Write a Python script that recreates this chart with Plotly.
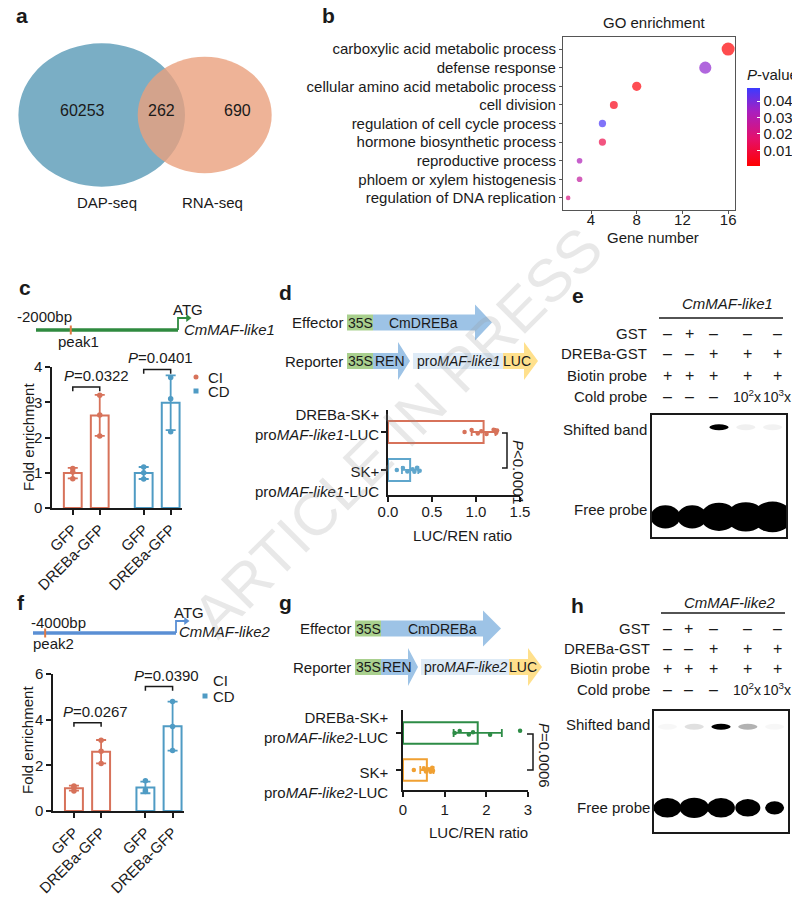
import numpy as np
import plotly.graph_objects as go

W, H = 800, 908
OFF = 8  # page body margin of the browser
FONT = "Liberation Sans, Arial, sans-serif"
INK = "#1a1a1a"
CI_COL, CD_COL = "#d7725a", "#4f9bc4"
GREEN, BLUE, LIGHT, YELLOW = "#a9d08e", "#9dc3e6", "#deebf7", "#ffe08c"


def fx(p):
    return (p - OFF) / W


def fy(p):
    return 1 - (p - OFF) / H


# ---------------- data ----------------
venn_names = ["DAP-seq", "RNA-seq"]
venn_counts = [60253, 262, 690]  # DAP only, shared, RNA only

go_terms = ["carboxylic acid metabolic process", "defense response",
            "cellular amino acid metabolic process", "cell division",
            "regulation of cell cycle process", "hormone biosynthetic process",
            "reproductive process", "phloem or xylem histogenesis",
            "regulation of DNA replication"]
go_genes = [16, 14, 8, 6, 5, 5, 3, 3, 2]
go_pvals = [0.001, 0.037, 0.002, 0.004, 0.046, 0.012, 0.032, 0.027, 0.021]

chip_labels = ["GFP", "DREBa-GFP"]
c_ci = [[1.12, 1.02, 0.83], [3.20, 2.64, 2.04]]
c_cd = [[1.16, 1.00, 0.82], [3.70, 3.10, 2.16]]
c_p = ["0.0322", "0.0401"]
f_ci = [[1.10, 1.02, 0.88], [3.10, 2.62, 2.08]]
f_cd = [[1.32, 0.92, 0.85], [4.80, 3.70, 2.65]]
f_p = ["0.0267", "0.0390"]

promoter_len = [2000, 4000]
peak_pos = [-1510, -3660]

d_dreb = [0.87, 0.95, 1.02, 1.06, 1.12, 1.20, 1.23, 1.24]
d_sk = [0.10, 0.17, 0.22, 0.28, 0.30, 0.33, 0.36]
g_dreb = [1.24, 1.36, 1.58, 1.68, 2.09, 2.81]
g_sk = [0.26, 0.50, 0.55, 0.62, 0.66, 0.70, 0.72]

gel_rows = ["GST", "DREBa-GST", "Biotin probe", "Cold probe"]
lane_gst = ["–", "+", "–", "–", "–"]
lane_dreb = ["–", "–", "+", "+", "+"]
lane_biotin = ["+", "+", "+", "+", "+"]
lane_cold = ["–", "–", "–", "10<sup>2</sup>x", "10<sup>3</sup>x"]
e_shift = [0.0, 0.0, 1.0, 0.06, 0.05]
e_free = [0.9, 0.9, 1.1, 1.15, 1.2]
h_shift = [0.03, 0.12, 1.0, 0.3, 0.03]
h_free = [1.0, 1.05, 1.0, 0.9, 0.68]

fig = go.Figure()
shapes, notes = [], []
lay = dict(width=W, height=H, margin=dict(l=0, r=0, t=0, b=0, autoexpand=False),
           paper_bgcolor="white", plot_bgcolor="white", showlegend=False,
           barmode="overlay", font=dict(family=FONT, size=15, color=INK))


def note(text, x, y, size=15, **kw):
    d = dict(text=text, x=fx(x), y=fy(y), xref="paper", yref="paper",
             xanchor="center", yanchor="middle", showarrow=False,
             font=dict(size=size, color=INK, family=FONT))
    d.update(kw)
    notes.append(d)


def axis(dom, rng, anchor, **kw):
    d = dict(domain=dom, range=rng, anchor=anchor, showline=True, linecolor=INK,
             linewidth=1.5, ticks="outside", ticklen=5, tickwidth=1.5, tickcolor=INK,
             showgrid=False, zeroline=False, tickfont=dict(size=15, color=INK))
    d.update(kw)
    return d


# ---------------- a: Venn ----------------
lay["xaxis"] = dict(domain=[fx(8), fx(290)], range=[8, 290], anchor="y", visible=False)
lay["yaxis"] = dict(domain=[fy(260), fy(8)], range=[260, 8], anchor="x", visible=False)
venn_geom = [(101.7, 115, 83.3, 71.7, "rgb(122,174,197)"),
             (204.7, 115, 67, 58.3, "rgba(234,160,125,0.8)")]
for cx, cy, rx, ry, col in venn_geom:
    shapes.append(dict(type="circle", xref="x", yref="y", x0=cx - rx, x1=cx + rx,
                       y0=cy - ry, y1=cy + ry, fillcolor=col, line_width=0))
for cnt, xc in zip(venn_counts, [82, 161, 237]):
    notes.append(dict(text=str(cnt), x=xc, y=110, xref="x", yref="y", showarrow=False,
                      font=dict(size=16)))
for name, xc in zip(venn_names, [107, 212]):
    notes.append(dict(text=name, x=xc, y=202, xref="x", yref="y", showarrow=False,
                      font=dict(size=15)))

# ---------------- b: GO bubble ----------------
pcolors = [[0, "#ff0000"], [0.35, "#e5106b"], [0.7, "#a81fc0"], [1, "#3b3bff"]]
fig.add_trace(go.Scatter(
    x=go_genes, y=go_terms, mode="markers", xaxis="x2", yaxis="y2", cliponaxis=False,
    marker=dict(size=go_genes, sizemode="area", sizeref=2 * max(go_genes) / 13 ** 2,
                color=go_pvals, cmin=0.0005, cmax=0.048, colorscale=pcolors,
                line=dict(width=0),
                colorbar=dict(x=fx(747), xanchor="left", y=fy(116), yanchor="middle",
                              len=100, lenmode="pixels", thickness=13, outlinewidth=0,
                              xpad=0, ypad=0, ticks="inside", tickcolor="white",
                              ticklen=3, tickvals=[0.01, 0.02, 0.03, 0.04],
                              tickformat=".2f", tickfont=dict(size=15, color=INK),
                              title=dict(text="<i>P</i>-value", side="top",
                                         font=dict(size=15, color=INK)))),
))
lay["xaxis2"] = axis([fx(563), fx(735)], [1.55, 16.6], "y2", tickvals=[4, 8, 12, 16],
                     mirror=True, linecolor="#555", linewidth=1.2, ticklen=3,
                     tickcolor="#555", tickwidth=1, ticklabelstandoff=-7)
lay["yaxis2"] = axis([fy(210), fy(37)], [-0.65, len(go_terms) - 0.35], "x2",
                     type="category", categoryorder="array",
                     categoryarray=go_terms[::-1], mirror=True, linecolor="#555",
                     linewidth=1.2, ticklen=3, tickcolor="#555", tickwidth=1)
note("GO enrichment", 654, 23)
note("Gene number", 653, 237)

# ---------------- c / f: ChIP bars ----------------
CHIP_X = [[0, 1], [2.63, 3.63]]


def chip_panel(n, xl, xr, ytop, ybot, ymax, dtick, ci, cd, pvals, brk_y, shifts):
    xa, ya = f"x{n}", f"y{n}"
    lay[f"xaxis{n}"] = axis([fx(xl), fx(xr)], [-0.77, 4.05], ya,
                            tickvals=CHIP_X[0] + CHIP_X[1], ticktext=chip_labels * 2,
                            tickangle=-45)
    lay[f"yaxis{n}"] = axis([fy(ybot), fy(ytop)], [0, ymax], xa, dtick=dtick)
    for grp, pos, col in zip((ci, cd), CHIP_X, (CI_COL, CD_COL)):
        means = [np.mean(v) for v in grp]
        sds = [np.std(v, ddof=1) for v in grp]
        fig.add_trace(go.Bar(x=pos, y=means, width=0.66, xaxis=xa, yaxis=ya,
                             marker=dict(color="rgba(0,0,0,0)", line=dict(color=col, width=2)),
                             error_y=dict(type="data", array=sds, color=col,
                                          thickness=1.8, width=5)))
        xs = [p for p, v in zip(pos, grp) for _ in v]
        ys = [y for v in grp for y in v]
        fig.add_trace(go.Scatter(x=xs, y=ys, mode="markers", xaxis=xa, yaxis=ya,
                                 cliponaxis=False, marker=dict(size=5.5, color=col)))
    drop = 0.03 * ymax
    for (a, b), p, yb, sh in zip(CHIP_X, pvals, brk_y, shifts):
        shapes.append(dict(type="path", xref=xa, yref=ya,
                           path=f"M {a},{yb - drop} L {a},{yb} L {b},{yb} L {b},{yb - drop}",
                           line=dict(color=INK, width=1.5)))
        notes.append(dict(text=f"<i>P</i>={p}", x=(a + b) / 2, y=yb, xref=xa, yref=ya,
                          xanchor="center", yanchor="bottom", yshift=1, xshift=sh,
                          showarrow=False, font=dict(size=15)))


chip_panel(3, 52, 182, 367, 508, 4, 1, c_ci, c_cd, c_p, [3.43, 3.93], [10, 3])
chip_panel(6, 53, 184, 674, 811, 6, 2, f_ci, f_cd, f_p, [3.87, 5.45], [8, 7])
note("Fold enrichment", 28, 437, textangle=-90)
note("Fold enrichment", 27, 740, textangle=-90)

# legends
shapes.append(dict(type="circle", xref="paper", yref="paper", x0=fx(193.5), x1=fx(198.5),
                   y0=fy(379.5), y1=fy(374.5), fillcolor=CI_COL, line_width=0))
shapes.append(dict(type="rect", xref="paper", yref="paper", x0=fx(193.5), x1=fx(198.5),
                   y0=fy(393.5), y1=fy(388.5), fillcolor=CD_COL, line_width=0))
note("CI", 206, 377, xanchor="left")
note("CD", 206, 391, xanchor="left")
shapes.append(dict(type="rect", xref="paper", yref="paper", x0=fx(202.5), x1=fx(207.5),
                   y0=fy(698.5), y1=fy(693.5), fillcolor=CD_COL, line_width=0))
note("CI", 211, 680, xanchor="left")
note("CD", 211, 696, xanchor="left")

# gene diagrams
for n, plen, peak, x0, x1, yc, col, lab, gene, pts in (
        (9, promoter_len[0], peak_pos[0], 36, 178, 330, "#2f8a3f", "peak1", "CmMAF-like1",
         dict(bp=(44.5, 317), pk=341, atg=(188, 309), gn=(229, 329))),
        (10, promoter_len[1], peak_pos[1], 33, 176, 633, "#5a8fd4", "peak2", "CmMAF-like2",
         dict(bp=(58, 622), pk=643, atg=(189, 612), gn=(224, 631)))):
    xa, ya = f"x{n}", f"y{n}"
    scale = plen / (x1 - x0)
    lay[f"xaxis{n}"] = dict(domain=[fx(x0), fx(x1 + 18)], range=[-plen, 18 * scale],
                            anchor=ya, visible=False)
    lay[f"yaxis{n}"] = dict(domain=[fy(yc + 15), fy(yc - 15)], range=[-1, 1],
                            anchor=xa, visible=False)
    fig.add_trace(go.Scatter(x=[-plen, 0], y=[0, 0], mode="lines", xaxis=xa, yaxis=ya,
                             line=dict(color=col, width=3.5)))
    fig.add_trace(go.Scatter(x=[0, 0, 10 * scale], y=[0, 0.8, 0.8], mode="lines",
                             xaxis=xa, yaxis=ya, line=dict(color=col, width=1.8)))
    fig.add_trace(go.Scatter(x=[10 * scale], y=[0.8], mode="markers", xaxis=xa, yaxis=ya,
                             cliponaxis=False,
                             marker=dict(symbol="triangle-right", size=7, color=col)))
    fig.add_trace(go.Scatter(x=[peak, peak], y=[-0.3, 0.3], mode="lines", xaxis=xa,
                             yaxis=ya, line=dict(color="#e07a45", width=2)))
    note(f"-{plen}bp", *pts["bp"])
    notes.append(dict(text=lab, x=peak, y=fy(pts["pk"]), xref=xa, yref="paper",
                      xanchor="center", yanchor="middle", xshift=8, showarrow=False,
                      font=dict(size=15)))
    note("ATG", *pts["atg"])
    note(f"<i>{gene}</i>", *pts["gn"])

# ---------------- d / g: dual luciferase ----------------
JIT = [0.0, 0.05, -0.04, 0.02, -0.05, 0.06, -0.02, 0.04]


def luc_panel(n, xl, xr, ytop, ybot, yr, xmax, dtick, fmt, dreb, sk, cols, standoff):
    xa, ya = f"x{n}", f"y{n}"
    lay[f"xaxis{n}"] = axis([fx(xl), fx(xr)], [0, xmax], ya, dtick=dtick, tickformat=fmt,
                            ticklabelstandoff=standoff)
    lay[f"yaxis{n}"] = axis([fy(ybot), fy(ytop)], yr, xa, tickvals=[0, 1],
                            showticklabels=False)
    for vals, row, col in ((dreb, 1, cols[0]), (sk, 0, cols[1])):
        fig.add_trace(go.Bar(y=[row], x=[np.mean(vals)], orientation="h", width=0.58,
                             xaxis=xa, yaxis=ya,
                             marker=dict(color="rgba(0,0,0,0)", line=dict(color=col, width=2)),
                             error_x=dict(type="data", array=[np.std(vals, ddof=1)],
                                          color=col, thickness=1.8, width=4)))
        fig.add_trace(go.Scatter(x=vals, y=[row + j for j in JIT[:len(vals)]],
                                 mode="markers", xaxis=xa, yaxis=ya, cliponaxis=False,
                                 marker=dict(size=4.5, color=col)))


luc_panel(4, 388, 520, 410, 495, [-0.66, 1.58], 1.5, 0.5, ".1f", d_dreb, d_sk,
          (CI_COL, "#5fa6cc"), -3)
luc_panel(7, 403, 528, 710, 790, [-0.54, 1.62], 3, 1, "d", g_dreb, g_sk,
          ("#2d8c46", "#f0a032"), 0)

for gene, xr, lab_y, brk, ptxt in (
        ("MAF-like1", 381, (425, 481), (502, 507, 433, 468), ("<0.0001", 519, 472)),
        ("MAF-like2", 390, (727.5, 782.5), (527, 533, 734, 770), ("=0.0006", 545, 755))):
    for ly, first in zip(lab_y, ["DREBa-SK+", "SK+"]):
        note(f"{first}<br>pro<i>{gene}</i>-LUC", xr, ly, xanchor="right", align="right")
    bx0, bx1, by0, by1 = brk
    shapes.append(dict(type="path", xref="paper", yref="paper",
                       path=f"M {fx(bx0)},{fy(by0)} L {fx(bx1)},{fy(by0)} L {fx(bx1)},{fy(by1)} L {fx(bx0)},{fy(by1)}",
                       line=dict(color=INK, width=1.5)))
    note(f"<i>P</i>{ptxt[0]}", ptxt[1], ptxt[2], textangle=90)

note("LUC/REN ratio", 462, 535)
note("LUC/REN ratio", 478, 832)


# constructs
def box(x0, x1, yc, hb, col):
    shapes.append(dict(type="rect", xref="paper", yref="paper", x0=fx(x0), x1=fx(x1),
                       y0=fy(yc + hb), y1=fy(yc - hb), fillcolor=col, line_width=0))


def arrow(x0, xs, xt, yc, hb, hh, col):
    pts = [(x0, yc - hb), (xs, yc - hb), (xs, yc - hh), (xt, yc), (xs, yc + hh),
           (xs, yc + hb), (x0, yc + hb)]
    path = "M " + " L ".join(f"{fx(a):.5f},{fy(b):.5f}" for a, b in pts) + " Z"
    shapes.append(dict(type="path", xref="paper", yref="paper", path=path,
                       fillcolor=col, line_width=0))


for dx, ye, yrp, gene, eff, ren, luc in (
        (0, 322.5, 361, "MAF-like1", (475, 492, 423), (398, 410, 390), (503, 524, 538)),
        (8, 628.5, 667, "MAF-like2", (483, 501, 442), (408, 418, 397), (509, 528, 542))):
    note("Effector", 345 + dx, ye, xanchor="right")
    box(347 + dx, 373 + dx, ye, 8, GREEN)
    note("35S", 360 + dx, ye, size=14)
    arrow(373 + dx, eff[0], eff[1], ye, 8, 18, BLUE)
    note("CmDREBa", eff[2], ye, size=14)
    note("Reporter", 345 + dx, yrp, xanchor="right")
    box(347 + dx, 373 + dx, yrp, 8, GREEN)
    note("35S", 360 + dx, yrp, size=14)
    arrow(373 + dx, ren[0], ren[1], yrp, 8, 19, BLUE)
    note("REN", ren[2], yrp, size=14)
    box(ren[1] + 3, luc[0], yrp, 8, LIGHT)
    note(f"pro<i>{gene}</i>", (ren[1] + 3 + luc[0]) / 2, yrp, size=14)
    arrow(luc[0], luc[1], luc[2], yrp, 8, 19, YELLOW)
    note("LUC", luc[0] + 14, yrp, size=14)


# ---------------- e / h: EMSA ----------------
def gel(n, x0, x1, y0, y1, shift, free, sy, fyc, fh, fw, title, ty, lny, rows_y, lab_x,
        band_y, sign_x):
    xa, ya = f"x{n}", f"y{n}"
    frame = dict(showline=True, mirror=True, linecolor=INK, linewidth=1.5,
                 showticklabels=False, ticks="", showgrid=False, zeroline=False)
    lay[f"xaxis{n}"] = dict(domain=[fx(x0), fx(x1)], range=[0.5, 5.5], anchor=ya, **frame)
    lay[f"yaxis{n}"] = dict(domain=[fy(y1), fy(y0)], range=[1, 0], anchor=xa, **frame)
    for i, s in enumerate(shift, start=1):
        if s > 0:
            shapes.append(dict(type="circle", xref=xa, yref=ya, x0=i - 0.36, x1=i + 0.36,
                               y0=sy - 0.024, y1=sy + 0.024, fillcolor="black",
                               opacity=s, line_width=0))
    for i, s in enumerate(free, start=1):
        shapes.append(dict(type="circle", xref=xa, yref=ya, x0=i - fw * s, x1=i + fw * s,
                           y0=fyc - fh * s, y1=fyc + fh * s, fillcolor="black",
                           line_width=0))
    note(f"<i>{title}</i>", (x0 + x1) / 2 + 8, ty)
    shapes.append(dict(type="line", xref="paper", yref="paper", x0=fx(x0 + 7), x1=fx(x1 - 3),
                       y0=fy(lny), y1=fy(lny), line=dict(color=INK, width=1.5)))
    for lab, signs, yy in zip(gel_rows, [lane_gst, lane_dreb, lane_biotin, lane_cold], rows_y):
        note(lab, lab_x, yy, xanchor="right")
        for s, sx in zip(signs, sign_x):
            note(s, sx, yy, size=16 if len(s) == 1 else 14)
    note("Shifted band", lab_x, band_y[0], xanchor="right")
    note("Free probe", lab_x, band_y[1], xanchor="right")


gel(5, 652, 786, 415, 537, e_shift, e_free, 0.1, 0.835, 0.105, 0.62, "CmMAF-like1", 303, 318,
    (333, 353, 375, 396), 649, (429, 510), (667, 689, 713, 747, 777))
gel(8, 654, 788, 711, 832, h_shift, h_free, 0.13, 0.8, 0.08, 0.52, "CmMAF-like2", 602, 613,
    (628, 648, 668, 689), 652, (724, 807), (667, 688, 713, 747, 777))

# panel letters
for letter, x, y in (("a", 22, 16), ("b", 328, 16), ("c", 25, 287), ("d", 285, 292),
                     ("e", 578, 295), ("f", 21, 602), ("g", 285, 602), ("h", 577, 605)):
    note(f"<b>{letter}</b>", x, y, size=21)

# watermark
note("ARTICLE IN PRESS", 397, 432, textangle=-45,
     font=dict(size=60, color="rgba(150,150,150,0.22)", family=FONT))

lay["shapes"] = shapes
lay["annotations"] = notes
fig.update_layout(**lay)
fig.write_html("out.html")
